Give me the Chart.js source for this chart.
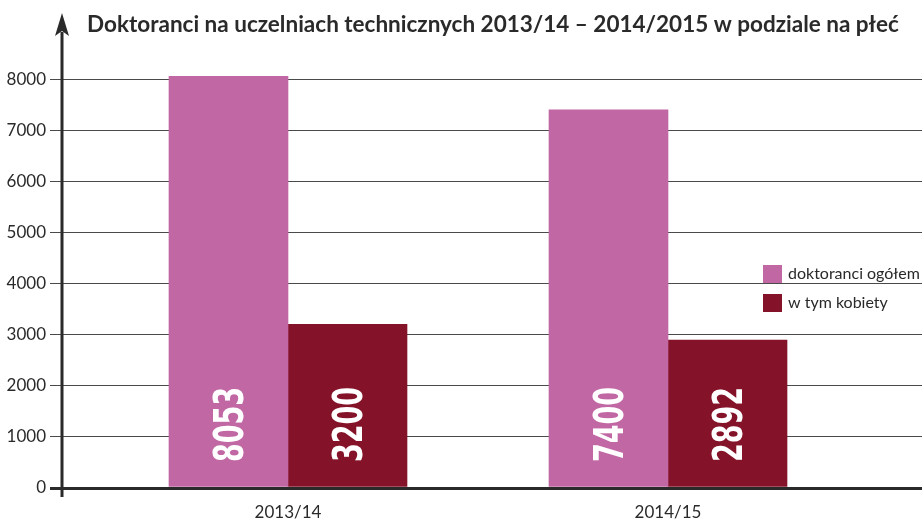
<!DOCTYPE html>
<html>
<head>
<meta charset="utf-8">
<script src="https://cdn.jsdelivr.net/npm/chart.js@4"></script>
<style>
  html, body { margin: 0; background: #fff; }
  #wrap { width: 922px; height: 522px; }
</style>
</head>
<body>
<div id="wrap"><canvas id="chart"></canvas></div>
<script>
const years = ["2013/14", "2014/15"];
const seriesNames = ["doktoranci ogółem", "w tym kobiety"];
const totalPhd = [8053, 7400];
const womenPhd = [3200, 2892];
const titleText = "Doktoranci na uczelniach technicznych 2013/14 – 2014/2015 w podziale na płeć";

const pink = "#C067A4";
const wine = "#841228";
const ink = "#2a2a2a";

// title, arrowed y axis and legend, drawn over the chart
const decor = {
  id: "decor",
  afterDraw(chart) {
    const { ctx, chartArea } = chart;
    const ax = chartArea.left;
    ctx.save();
    ctx.fillStyle = ink;
    ctx.font = "bold 22.5px Lato";
    ctx.textAlign = "center";
    ctx.textBaseline = "alphabetic";
    ctx.fillText(titleText, (chartArea.left + chartArea.right) / 2 + 1, 32);

    ctx.strokeStyle = ink;
    ctx.lineWidth = 3;
    ctx.beginPath();
    ctx.moveTo(ax, chartArea.bottom + 9);
    ctx.lineTo(ax, chartArea.top + 4);
    ctx.stroke();
    ctx.beginPath();
    ctx.moveTo(ax, chartArea.top - 15);
    ctx.lineTo(ax + 7, chartArea.top + 8);
    ctx.lineTo(ax, chartArea.top + 3);
    ctx.lineTo(ax - 7, chartArea.top + 8);
    ctx.closePath();
    ctx.fill();

    ctx.font = "16px Lato";
    ctx.textAlign = "left";
    ctx.textBaseline = "middle";
    chart.data.datasets.forEach((ds, i) => {
      const y = 265 + i * 29;
      ctx.fillStyle = ds.backgroundColor;
      ctx.fillRect(763, y, 19, 18);
      ctx.fillStyle = ink;
      ctx.fillText(ds.label, 788, y + 9);
    });
    ctx.restore();
  }
};

// rotated white value labels inside the bars
const barValues = {
  id: "barValues",
  afterDatasetsDraw(chart) {
    const { ctx, chartArea } = chart;
    const size = 40;
    ctx.save();
    ctx.fillStyle = "#fff";
    ctx.font = "bold " + size + "px 'DejaVu Sans Condensed', 'DejaVu Sans', sans-serif";
    ctx.textAlign = "left";
    ctx.textBaseline = "alphabetic";
    chart.data.datasets.forEach((ds, di) => {
      chart.getDatasetMeta(di).data.forEach((bar, i) => {
        ctx.save();
        ctx.translate(bar.x, chartArea.bottom - 26);
        ctx.rotate(-Math.PI / 2);
        ctx.scale(0.75, 1);
        ctx.fillText(String(ds.data[i].y), 0, size * 0.73 / 2);
        ctx.restore();
      });
    });
    ctx.restore();
  }
};

new Chart(document.getElementById("chart").getContext("2d"), {
  type: "bar",
  data: {
    datasets: [
      { label: seriesNames[0], data: totalPhd.map((v, i) => ({ x: i, y: v })), backgroundColor: pink },
      { label: seriesNames[1], data: womenPhd.map((v, i) => ({ x: i, y: v })), backgroundColor: wine }
    ]
  },
  options: {
    responsive: true,
    maintainAspectRatio: false,
    animation: false,
    barThickness: 119,
    layout: { padding: { top: 28, left: 0, right: 0, bottom: 0 } },
    plugins: { legend: { display: false }, title: { display: false }, tooltip: { enabled: false } },
    scales: {
      x: {
        type: "linear",
        offset: false,
        bounds: "data",
        min: -0.5947,
        max: 1.6684,
        afterFit: s => { s.height = 34; },
        afterBuildTicks: s => { s.ticks = years.map((_, i) => ({ value: i })); },
        grid: { display: false, drawTicks: false, offset: false },
        border: { display: false },
        ticks: {
          callback: v => years[v] ?? "",
          color: ink,
          font: { family: "Lato", size: 17 },
          padding: 14,
          maxRotation: 0
        }
      },
      y: {
        min: 0,
        max: 9000,
        afterFit: s => { s.width = 62; },
        border: { display: false },
        grid: {
          color: c => c.tick.value === 9000 ? "rgba(0,0,0,0)" : (c.tick.value === 0 ? ink : "#4a4a4a"),
          lineWidth: c => c.tick.value === 0 ? 3 : 1,
          tickLength: 12
        },
        ticks: {
          stepSize: 1000,
          callback: v => v === 9000 ? "" : String(v),
          color: ink,
          font: { family: "Lato", size: 17 },
          padding: 4
        }
      }
    }
  },
  plugins: [barValues, decor]
});
</script>
</body>
</html>
